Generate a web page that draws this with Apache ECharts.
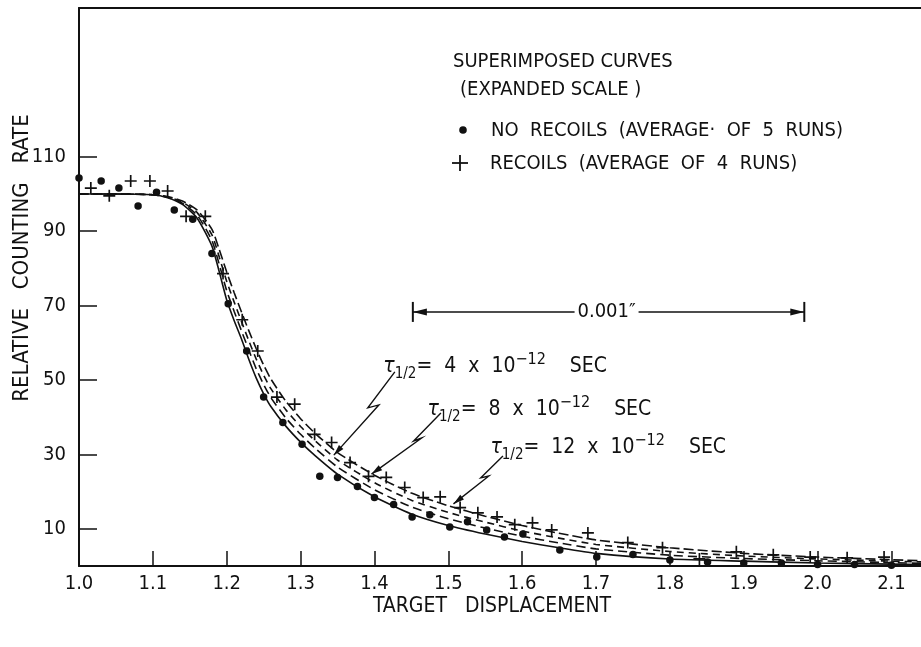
<!DOCTYPE html>
<html>
<head>
<meta charset="utf-8">
<script src="https://cdn.jsdelivr.net/npm/echarts@6/dist/echarts.min.js"></script>
<style>
  html, body { margin: 0; padding: 0; background: #fff; }
  #chart { width: 921px; height: 647px; }
</style>
</head>
<body>
<div id="chart"></div>
<script>
// x positions (target displacement) of the drawn curves
const curveX = [1.0, 1.05, 1.1, 1.12, 1.14, 1.16, 1.18, 1.19, 1.2, 1.21, 1.22, 1.23, 1.24, 1.25, 1.26, 1.28, 1.3, 1.32, 1.35, 1.4, 1.45, 1.5, 1.55, 1.6, 1.65, 1.7, 1.8, 1.9, 2.0, 2.1, 2.14];
// solid curve (no recoils)
const curveBase = [100, 100, 99.8, 99, 97.2, 93.5, 86, 79, 71.5, 66, 61, 55.5, 50.5, 46.3, 42.8, 37.6, 33.3, 29.6, 24.7, 18.6, 14.0, 10.9, 8.6, 6.6, 4.9, 3.4, 1.9, 1.3, 0.8, 0.5, 0.4];
// dashed curves, tau 1/2 = 4, 8, 12 x 10^-12 sec
const curveTau4 = [100, 100, 99.8, 99.1, 97.5, 94.3, 87.5, 81, 74, 68.5, 63.2, 58, 53, 48.8, 45.2, 39.8, 35.4, 31.6, 26.6, 20.5, 15.9, 12.7, 10.2, 8.0, 6.2, 4.6, 2.9, 2.0, 1.4, 0.9, 0.7];
const curveTau8 = [100, 100, 99.8, 99.2, 97.8, 95, 89, 83, 76.5, 71, 65.7, 60.5, 55.6, 51.3, 47.6, 42, 37.5, 33.6, 28.5, 22.4, 17.7, 14.4, 11.8, 9.4, 7.5, 5.8, 3.9, 2.7, 1.9, 1.3, 1.1];
const curveTau12 = [100, 100, 99.8, 99.3, 98.1, 95.7, 90.5, 85, 79, 73.5, 68.3, 63.2, 58.4, 54, 50.2, 44.3, 39.6, 35.6, 30.5, 24.4, 19.6, 16.2, 13.4, 10.9, 8.8, 7.0, 4.9, 3.4, 2.4, 1.7, 1.4];

// measured points: no recoils (dots)
const noRecoilX = [1.0, 1.03, 1.054, 1.08, 1.105, 1.129, 1.154, 1.18, 1.202, 1.227, 1.25, 1.276, 1.302, 1.326, 1.35, 1.377, 1.40, 1.426, 1.451, 1.475, 1.502, 1.526, 1.552, 1.576, 1.601, 1.651, 1.701, 1.75, 1.80, 1.851, 1.90, 1.951, 2.0, 2.05, 2.1];
const noRecoilY = [104.3, 103.5, 101.6, 96.8, 100.5, 95.7, 93.2, 84, 70.5, 57.8, 45.4, 38.6, 32.7, 24.1, 23.8, 21.4, 18.4, 16.5, 13.2, 13.8, 10.5, 11.9, 9.7, 7.8, 8.6, 4.3, 2.4, 3.1, 1.6, 1.1, 0.8, 0.8, 0.4, 0.4, 0.2];
// measured points: recoils (crosses)
const recoilX = [1.016, 1.041, 1.07, 1.096, 1.12, 1.145, 1.171, 1.195, 1.221, 1.242, 1.268, 1.292, 1.319, 1.342, 1.367, 1.392, 1.416, 1.441, 1.466, 1.489, 1.516, 1.54, 1.566, 1.59, 1.614, 1.64, 1.689, 1.743, 1.79, 1.84, 1.89, 1.94, 1.99, 2.04, 2.09];
const recoilY = [101.6, 99.5, 103.5, 103.5, 100.8, 94, 94, 78.6, 66.2, 57.8, 45.4, 43.5, 35.4, 33.2, 27.8, 24.1, 23.8, 21.1, 18.4, 18.6, 15.7, 14.3, 13.2, 11.1, 11.6, 9.7, 8.9, 6.3, 4.9, 1.9, 3.8, 3.0, 2.4, 2.2, 2.4];

const yTicks = [10, 30, 50, 70, 90, 110];
const xTicks = [1.0, 1.1, 1.2, 1.3, 1.4, 1.5, 1.6, 1.7, 1.8, 1.9, 2.0, 2.1];

// lifetime labels and their lightning leaders (data coords)
const tauLabels = ['4', '8', '12'];
const tauLabelPos = [[1.412, 53.5], [1.472, 42], [1.557, 31.8]];
const tauLeaders = [
  [[1.4276, 52.2], [1.391, 42.5], [1.406, 43.3], [1.345, 29.8]],
  [[1.490, 41.1], [1.453, 33.6], [1.464, 34.4], [1.396, 24.7]],
  [[1.574, 29.6], [1.544, 23.7], [1.555, 24.2], [1.507, 16.7]]
];
const scaleBar = [[1.452, 68.3], [1.982, 68.3]];

const INK = '#111';
const FONT = '"DejaVu Sans Condensed", "DejaVu Sans", sans-serif';
const PLUS = 'path://M4.3,0H5.7V4.3H10V5.7H5.7V10H4.3V5.7H0V4.3H4.3Z';

const pairs = (xs, ys) => xs.map((x, i) => [x, ys[i]]);

const lineSeries = (name, ys, dash) => ({
  name: name,
  type: 'line',
  data: pairs(curveX, ys),
  showSymbol: false,
  smooth: 0.2,
  silent: true,
  lineStyle: { color: INK, width: 1.6, type: dash }
});

const chart = echarts.init(document.getElementById('chart'));

option = {
  animation: false,
  backgroundColor: '#fff',
  grid: { left: 79, right: 0, top: 8, bottom: 81 },
  xAxis: [{
    type: 'value', min: 1.0, max: 2.14,
    axisLine: { lineStyle: { color: INK, width: 2 } },
    axisTick: { inside: true, length: 15, customValues: xTicks, lineStyle: { color: INK, width: 1.5 } },
    axisLabel: { customValues: xTicks, formatter: v => v.toFixed(1), color: INK, fontFamily: FONT, fontSize: 20, margin: 8 },
    splitLine: { show: false }
  }, {
    type: 'value', min: 1.0, max: 2.14, position: 'top',
    axisLine: { lineStyle: { color: INK, width: 2 } },
    axisTick: { show: false }, axisLabel: { show: false }, splitLine: { show: false }
  }],
  yAxis: {
    type: 'value', min: 0, max: 150,
    axisLine: { lineStyle: { color: INK, width: 2 } },
    axisTick: { inside: true, length: 18, customValues: yTicks, lineStyle: { color: INK, width: 1.5 } },
    axisLabel: { customValues: yTicks, color: INK, fontFamily: FONT, fontSize: 20, margin: 13 },
    splitLine: { show: false }
  },
  series: [
    lineSeries('base', curveBase, 'solid'),
    lineSeries('tau4', curveTau4, [9, 5]),
    lineSeries('tau8', curveTau8, [7, 5]),
    lineSeries('tau12', curveTau12, [10, 4]),
    {
      name: 'NO RECOILS', type: 'scatter', data: pairs(noRecoilX, noRecoilY),
      symbol: 'circle', symbolSize: 7.5, itemStyle: { color: INK, opacity: 1 }, clip: false
    },
    {
      name: 'RECOILS', type: 'scatter', data: pairs(recoilX, recoilY),
      symbol: PLUS, symbolSize: 12, itemStyle: { color: INK, opacity: 1 }, clip: false
    }
  ]
};
chart.setOption(option);

// annotations, placed after the axes exist
const px = p => chart.convertToPixel({ gridIndex: 0 }, p);

function arrowHead(tip, from, len, half) {
  const dx = tip[0] - from[0], dy = tip[1] - from[1];
  const d = Math.sqrt(dx * dx + dy * dy);
  const ux = dx / d, uy = dy / d;
  const bx = tip[0] - ux * len, by = tip[1] - uy * len;
  return {
    type: 'polygon',
    shape: { points: [tip, [bx - uy * half, by + ux * half], [bx + uy * half, by - ux * half]] },
    style: { fill: INK }
  };
}

const textStyle = (text, x, y, size, align) => ({
  type: 'text', x: x, y: y,
  style: { text: text, fill: INK, font: size + 'px ' + FONT, align: align || 'left', verticalAlign: 'middle' }
});

const seg = (x1, y1, x2, y2, w) => ({
  type: 'line', shape: { x1: x1, y1: y1, x2: x2, y2: y2 }, style: { stroke: INK, lineWidth: w || 1.5 }
});

let graphics = [];

// header and legend
graphics.push(textStyle('SUPERIMPOSED CURVES', 453, 62, 20));
graphics.push(textStyle('(EXPANDED SCALE )', 460, 90, 20));
graphics.push({ type: 'circle', shape: { cx: 463, cy: 130, r: 3.8 }, style: { fill: INK } });
graphics.push(textStyle('NO  RECOILS  (AVERAGE·  OF  5  RUNS)', 491, 131, 20));
graphics.push(seg(452, 163, 468, 163, 1.8));
graphics.push(seg(460, 155, 460, 171, 1.8));
graphics.push(textStyle('RECOILS  (AVERAGE  OF  4  RUNS)', 490, 164, 20));

// axis names
graphics.push({
  type: 'text', x: 22, y: 258, rotation: Math.PI / 2,
  style: { text: 'RELATIVE   COUNTING   RATE', fill: INK, font: '22px ' + FONT, align: 'center', verticalAlign: 'middle' }
});
graphics.push(textStyle('TARGET   DISPLACEMENT', 492, 607, 21, 'center'));

// 0.001" scale bar
const sb0 = px(scaleBar[0]), sb1 = px(scaleBar[1]);
const sbMid = (sb0[0] + sb1[0]) / 2;
graphics.push(seg(sb0[0], sb0[1], sbMid - 34, sb0[1]));
graphics.push(seg(sbMid + 30, sb1[1], sb1[0], sb1[1]));
graphics.push(seg(sb0[0], sb0[1] - 10, sb0[0], sb0[1] + 10, 2));
graphics.push(seg(sb1[0], sb1[1] - 10, sb1[0], sb1[1] + 10, 2));
graphics.push(arrowHead(sb0, [sb0[0] + 10, sb0[1]], 14, 3.5));
graphics.push(arrowHead(sb1, [sb1[0] - 10, sb1[1]], 14, 3.5));
graphics.push(textStyle('0.001\u2033', sbMid - 2, sb0[1], 20, 'center'));

// lifetime labels with lightning leaders
tauLabels.forEach((t, i) => {
  const p = px(tauLabelPos[i]);
  graphics.push({
    type: 'text', x: p[0], y: p[1],
    style: {
      text: '{t|\u03c4}{s|1/2}{n|=  ' + t + '  x  10}{p|\u221212}{n|    SEC}',
      align: 'left', verticalAlign: 'middle', fill: INK,
      rich: {
        t: { fontFamily: FONT, fontSize: 21, fontStyle: 'italic', lineHeight: 30, verticalAlign: 'middle', fill: INK },
        s: { fontFamily: FONT, fontSize: 15, lineHeight: 30, verticalAlign: 'bottom', fill: INK },
        n: { fontFamily: FONT, fontSize: 21, lineHeight: 30, verticalAlign: 'middle', fill: INK },
        p: { fontFamily: FONT, fontSize: 16, lineHeight: 30, verticalAlign: 'top', fill: INK }
      }
    }
  });
  const pts = tauLeaders[i].map(px);
  graphics.push({ type: 'polyline', shape: { points: pts }, style: { stroke: INK, lineWidth: 1.4, fill: null } });
  graphics.push(arrowHead(pts[pts.length - 1], pts[pts.length - 2], 11, 3));
});

chart.setOption({ graphic: graphics });

window.addEventListener('resize', function () {
  chart.resize();
});
</script>
</body>
</html>
